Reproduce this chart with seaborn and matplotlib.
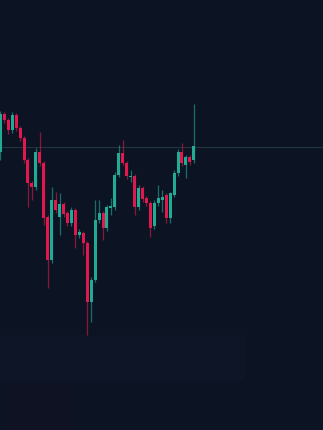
import numpy as np
import pandas as pd
import matplotlib
matplotlib.use("Agg")
import matplotlib.pyplot as plt
import seaborn as sns

# ---- data (price units) ----
direction = ["G", "R", "R", "G", "R", "R", "R", "R", "R", "G",
             "R", "R", "R", "G", "R", "G", "R", "R", "G", "R",
             "G", "R", "R", "G", "G", "G", "R", "G", "G", "G",
             "G", "R", "R", "G", "R", "G", "R", "R", "R", "G",
             "G", "G", "R", "G", "G", "G", "R", "G", "R", "G"]
body_top = [316, 316, 310, 315, 315, 302, 292, 270, 247, 278,
            278, 267, 213, 230, 230, 226, 226, 217, 220, 220,
            198, 197, 187, 150, 210, 217, 217, 223, 224, 255,
            277, 277, 267, 254, 254, 242, 242, 232, 227, 227,
            232, 233, 235, 237, 257, 278, 278, 273, 273, 284]
body_bottom = [278, 310, 300, 300, 302, 292, 270, 247, 243, 243,
               267, 212, 170, 170, 220, 213, 216, 207, 207, 195,
               195, 187, 128, 128, 150, 210, 202, 202, 222, 223,
               255, 267, 254, 253, 223, 223, 231, 227, 202, 204,
               227, 230, 212, 212, 235, 257, 267, 265, 268, 270]
high = [319, 318, 312, 318, 317, 304, 294, 272, 249, 282,
        298, 269, 215, 243, 238, 237, 228, 219, 223, 222,
        201, 199, 189, 153, 230, 230, 219, 225, 232, 258,
        285, 290, 269, 260, 256, 245, 244, 234, 229, 230,
        245, 240, 237, 238, 260, 281, 287, 275, 275, 326]
low = [270, 307, 296, 297, 299, 289, 267, 223, 230, 240,
       264, 205, 142, 167, 217, 195, 213, 204, 204, 182,
       192, 175, 95, 108, 148, 207, 190, 199, 215, 220,
       253, 265, 251, 248, 215, 220, 228, 224, 193, 201,
       224, 218, 207, 207, 233, 254, 264, 252, 265, 267]
last_price = 283

# ---- style ----
bg = "#0c1424"
up_color = "#22ab94"
down_color = "#e0184e"

sns.set_theme(style="dark", rc={"axes.facecolor": bg, "figure.facecolor": bg})

df = pd.DataFrame({"dir": direction, "top": body_top, "bottom": body_bottom,
                   "high": high, "low": low})
df["idx"] = np.arange(len(df))
df["color"] = np.where(df["dir"] == "G", up_color, down_color)

fig = plt.figure(figsize=(3.23, 4.30), dpi=100)
ax = fig.add_axes([0, 0, 1, 1])
ax.set_facecolor(bg)

# very faint background panels near the bottom
ax.axhspan(50, 95, xmin=0, xmax=0.76, color="#0d1526", lw=0, zorder=0)
ax.axhspan(0, 45, xmin=0.015, xmax=0.23, color="#0f1223", lw=0, zorder=0)

# last price line
ax.axhline(last_price, color="#24373f", lw=0.7, zorder=1)

# wicks
ax.vlines(df["idx"], df["low"], df["high"], colors=df["color"], lw=0.9,
          alpha=0.6, zorder=2)
# bodies
heights = (df["top"] - df["bottom"]).clip(lower=1.2)
ax.bar(df["idx"], heights, bottom=df["bottom"], width=0.76,
       color=df["color"], edgecolor="none", zorder=3)

ax.set_xlim(-0.08, 81.7)
ax.set_ylim(0, 430)
ax.axis("off")
sns.despine(ax=ax, left=True, bottom=True)

fig.savefig("out.png", dpi=100, facecolor=bg)
